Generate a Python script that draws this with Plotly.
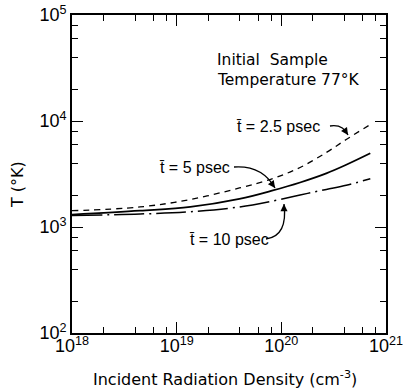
import plotly.graph_objects as go

# Incident radiation density (cm^-3) at which temperatures were read
density = [1e18, 4.47e18, 1.35e19, 3.98e19, 8.3e19, 1.51e20, 2.69e20, 4.17e20, 7.08e20]

# Peak temperature (K) for three pulse durations
temp_2_5ps = [1425, 1545, 1817, 2334, 2868, 3641, 5045, 6692, 9268]
temp_5ps = [1306, 1425, 1545, 1838, 2210, 2629, 3204, 3863, 4958]
temp_10ps = [1284, 1326, 1394, 1545, 1759, 2004, 2263, 2480, 2850]

x_major = [1e18, 1e19, 1e20, 1e21]
x_major_text = ["10<sup>18</sup>", "10<sup>19</sup>", "10<sup>20</sup>", "10<sup>21</sup>"]
y_major = [1e2, 1e3, 1e4, 1e5]
y_major_text = ["10<sup>2</sup>", "10<sup>3</sup>", "10<sup>4</sup>", "10<sup>5</sup>"]
x_minor = [m * 10.0 ** e for e in (18, 19, 20) for m in (2, 4, 6, 8)]
y_minor = [m * 10.0 ** e for e in (2, 3, 4) for m in (2, 4, 6, 8)]

TICK_FONT = "Liberation Sans"
TEXT_FONT = "DejaVu Sans"
W, H = 403, 392
L, R, T, B = 72, 17, 15, 59
PW, PH = W - L - R, H - T - B


def px(x, y):
    """Pixel position inside the figure -> paper coordinates."""
    return (x - L) / PW, (H - B - y) / PH


fig = go.Figure()
fig.add_trace(go.Scatter(x=density, y=temp_2_5ps, mode="lines", line_shape="spline",
                         line=dict(color="black", width=1.3, dash="6px,5px")))
fig.add_trace(go.Scatter(x=density, y=temp_5ps, mode="lines", line_shape="spline",
                         line=dict(color="black", width=1.8)))
fig.add_trace(go.Scatter(x=density, y=temp_10ps, mode="lines", line_shape="spline",
                         line=dict(color="black", width=1.5, dash="30px,5px,2px,5px")))

axis_common = dict(type="log", showgrid=False, zeroline=False, showline=True,
                   linecolor="black", linewidth=1.6, mirror="allticks",
                   ticks="inside", ticklen=11, tickwidth=1.3, tickcolor="black",
                   ticklabeloverflow="allow", automargin=False,
                   tickfont=dict(family=TICK_FONT, size=18, color="black"))

fig.update_xaxes(range=[17.99999, 21.00001], tickmode="array", tickvals=x_major,
                 ticktext=x_major_text, ticklabelstandoff=-4,
                 minor=dict(tickmode="array", tickvals=x_minor, ticks="inside",
                            ticklen=6, tickwidth=1.2, tickcolor="black"),
                 **axis_common)
fig.update_yaxes(range=[1.99999, 5.00001], tickmode="array", tickvals=y_major,
                 ticktext=y_major_text,
                 minor=dict(tickmode="array", tickvals=y_minor, ticks="inside",
                            ticklen=6, tickwidth=1.2, tickcolor="black"),
                 **axis_common)

annotations = []


def text_at(x, y, s, anchor="left", size=16, family=TEXT_FONT, angle=0):
    px_, py_ = px(x, y)
    annotations.append(dict(xref="paper", yref="paper", x=px_, y=py_, text=s,
                            showarrow=False, xanchor=anchor, yanchor="middle",
                            textangle=angle,
                            font=dict(family=family, size=size, color="black")))


text_at(225, 378, "Incident Radiation Density (cm<sup>-3</sup>)", anchor="center", size=16)
text_at(17, 185, "T (°K)", anchor="center", size=16, angle=-90)
text_at(215, 60, "Initial  Sample", size=15.5)
text_at(215, 80, "Temperature 77°K", size=15.5)
text_at(234, 126, "t\u0304 = 2.5 psec", family=TICK_FONT)
text_at(157, 167, "t\u0304 = 5 psec", family=TICK_FONT)
text_at(187, 240, "t\u0304 = 10 psec", family=TICK_FONT)

shapes = []


def curved_arrow(p0, c, p1, back):
    x0, y0 = px(*p0)
    cx, cy = px(*c)
    x1, y1 = px(*p1)
    shapes.append(dict(type="path", xref="paper", yref="paper",
                       path=f"M {x0},{y0} Q {cx},{cy} {x1},{y1}",
                       line=dict(color="black", width=1.3)))
    annotations.append(dict(xref="paper", yref="paper", x=x1, y=y1, text="",
                            showarrow=True, arrowhead=2, arrowsize=1.1, arrowwidth=1.3,
                            arrowcolor="black", ax=back[0], ay=back[1]))


curved_arrow((330, 126), (343, 124), (348, 135), (-4, -6))
curved_arrow((234, 167), (262, 165), (275, 188), (-5, -7))
curved_arrow((266, 239), (288, 236), (284, 204), (0, 8))

fig.update_layout(width=W, height=H, margin=dict(l=L, r=R, t=T, b=B),
                  paper_bgcolor="white", plot_bgcolor="white", showlegend=False,
                  annotations=annotations, shapes=shapes)

fig.write_html("out.html")
